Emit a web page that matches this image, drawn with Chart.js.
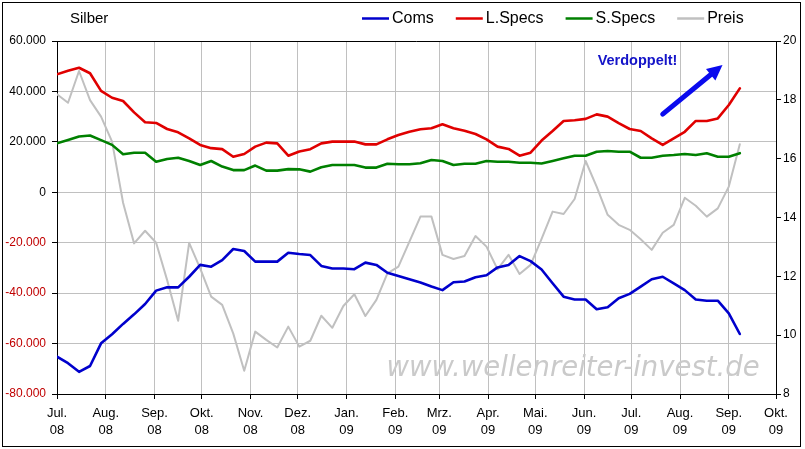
<!DOCTYPE html>
<html>
<head>
<meta charset="utf-8">
<script src="https://cdn.jsdelivr.net/npm/chart.js@4.4.1/dist/chart.umd.min.js"></script>
<style>
  html, body { margin: 0; padding: 0; background: #fff; }
  canvas { display: block; }
</style>
</head>
<body>
<canvas id="chart" width="805" height="449"></canvas>
<script>
// Silber - COT positions (weekly, Tuesdays) and price
const firstWeek = Date.UTC(2008, 6, 1);   // Tue 01.07.2008
const DAY = 86400000;

const coms = [
  -65200, -67800, -71200, -68900, -59900, -56300, -52200, -48400, -44300, -39000,
  -37700, -37700, -33500, -28800, -29500, -26900, -22500, -23300, -27500, -27500,
  -27500, -24000, -24500, -24900, -29200, -30200, -30200, -30500, -27900, -28800,
  -31900, -33200, -34500, -35800, -37400, -38800, -35700, -35400, -33700, -32900,
  -29800, -28800, -25300, -27300, -30600, -36100, -41400, -42500, -42500, -46400,
  -45600, -42000, -40300, -37400, -34500, -33500, -36100, -38800, -42500, -43000,
  -43000, -48000, -56200
];
const longSpecs = [
  46800, 48200, 49400, 47200, 40200, 37500, 36200, 31700, 27800, 27500,
  25100, 23800, 21400, 18800, 17500, 17100, 14100, 15200, 18100, 19700,
  19400, 14500, 16200, 17100, 19400, 20100, 20100, 20100, 19000, 19000,
  21000, 22700, 24000, 25000, 25400, 27000, 25400, 24400, 23100, 21000,
  18100, 17200, 14500, 15700, 20500, 24300, 28300, 28600, 29100, 30900,
  30000, 27400, 25100, 24300, 21400, 18800, 21400, 24000, 28300, 28300,
  29300, 34600, 41200
];
const shortSpecs = [
  19400, 20700, 22100, 22500, 20700, 18800, 15100, 15700, 15700, 12100,
  13200, 13700, 12400, 10800, 12400, 10200, 8800, 8800, 10600, 8600,
  8600, 9200, 9100, 8200, 9900, 10800, 10800, 10800, 9800, 9800,
  11300, 11100, 11100, 11500, 12800, 12400, 10800, 11300, 11300, 12400,
  12100, 12100, 11700, 11700, 11400, 12400, 13500, 14500, 14500, 16100,
  16400, 16100, 16100, 13700, 13700, 14500, 14800, 15200, 14800, 15500,
  14100, 14100, 15500
];
const price = [
  18.19, 17.90, 18.98, 17.99, 17.43, 16.58, 14.50, 13.12, 13.55, 13.14,
  11.87, 10.49, 13.14, 12.27, 11.31, 11.03, 10.06, 8.79, 10.12, 9.84,
  9.58, 10.29, 9.61, 9.81, 10.66, 10.25, 10.99, 11.39, 10.65, 11.20,
  12.10, 12.33, 13.18, 14.03, 14.03, 12.73, 12.59, 12.69, 13.37, 13.01,
  12.24, 12.73, 12.08, 12.39, 13.27, 14.20, 14.12, 14.63, 15.92, 15.05,
  14.09, 13.75, 13.58, 13.26, 12.90, 13.48, 13.75, 14.67, 14.40, 14.03,
  14.31, 15.05, 16.49
];

const monthNames = ['Jul.', 'Aug.', 'Sep.', 'Okt.', 'Nov.', 'Dez.', 'Jan.', 'Feb.',
                    'Mrz.', 'Apr.', 'Mai.', 'Jun.', 'Jul.', 'Aug.', 'Sep.', 'Okt.'];
const monthYears = ['08', '08', '08', '08', '08', '08', '09', '09',
                    '09', '09', '09', '09', '09', '09', '09', '09'];

// day offsets of the month starts (x axis ticks) and of each weekly point
const monthDays = monthNames.map((m, k) => Math.round((Date.UTC(2008, 6 + k, 1) - firstWeek) / DAY));
const weekDays = coms.map((v, i) => i * 7);
const toPoints = arr => arr.map((v, i) => ({ x: weekDays[i], y: v }));

const fmt = v => (v < 0 ? '-' : '') + Math.abs(v).toString().replace(/\B(?=(\d{3})+(?!\d))/g, '.');

const FONT = "'Liberation Sans', Arial, sans-serif";
Chart.defaults.font.family = FONT;

// extra drawing: background, watermark, note + arrow, frame, title and legend
const decorations = {
  id: 'decorations',
  beforeDraw(chart) {
    const ctx = chart.ctx;
    ctx.save();
    ctx.fillStyle = '#fff';
    ctx.fillRect(0, 0, chart.width, chart.height);
    ctx.restore();
  },
  beforeDatasetsDraw(chart) {
    const { ctx, scales: { x, y } } = chart;
    ctx.save();
    ctx.font = "oblique 27.5px 'DejaVu Sans', sans-serif";
    ctx.fillStyle = '#cacaca';
    ctx.textAlign = 'center';
    ctx.textBaseline = 'middle';
    ctx.fillText('www.wellenreiter-invest.de', x.getPixelForValue(328), y.getPixelForValue(-70000));
    ctx.restore();
  },
  afterDatasetsDraw(chart) {
    const { ctx, scales: { x, y } } = chart;
    ctx.save();
    ctx.font = 'bold 14.5px ' + FONT;
    ctx.fillStyle = '#1414c8';
    ctx.textAlign = 'center';
    ctx.textBaseline = 'middle';
    ctx.fillText('Verdoppelt!', x.getPixelForValue(369), y.getPixelForValue(52200));

    // arrow
    const x0 = x.getPixelForValue(385), y0 = y.getPixelForValue(31000);
    const x1 = x.getPixelForValue(423), y1 = y.getPixelForValue(50500);
    const ang = Math.atan2(y1 - y0, x1 - x0);
    const head = 17;
    ctx.strokeStyle = '#0a0aee';
    ctx.fillStyle = '#0a0aee';
    ctx.lineWidth = 5;
    ctx.lineCap = 'round';
    ctx.beginPath();
    ctx.moveTo(x0, y0);
    ctx.lineTo(x1 - Math.cos(ang) * head * 0.7, y1 - Math.sin(ang) * head * 0.7);
    ctx.stroke();
    ctx.beginPath();
    ctx.moveTo(x1, y1);
    ctx.lineTo(x1 - Math.cos(ang - 0.45) * head, y1 - Math.sin(ang - 0.45) * head);
    ctx.lineTo(x1 - Math.cos(ang + 0.45) * head, y1 - Math.sin(ang + 0.45) * head);
    ctx.closePath();
    ctx.fill();
    ctx.restore();
  },
  afterDraw(chart) {
    const { ctx, chartArea: a } = chart;
    ctx.save();
    ctx.strokeStyle = '#000';
    ctx.lineWidth = 1;
    ctx.beginPath();
    ctx.moveTo(a.left, Math.round(a.top) + 0.5);
    ctx.lineTo(a.right, Math.round(a.top) + 0.5);
    ctx.stroke();
    ctx.strokeRect(2.5, 2.5, 798, 444);

    ctx.fillStyle = '#000';
    ctx.textBaseline = 'middle';
    ctx.font = '15px ' + FONT;
    ctx.fillText('Silber', 70, 19);

    // legend
    ctx.font = '16px ' + FONT;
    let lx = 362;
    chart.data.datasets.forEach(ds => {
      ctx.strokeStyle = ds.borderColor;
      ctx.lineWidth = 2.5;
      ctx.beginPath();
      ctx.moveTo(lx, 18.5);
      ctx.lineTo(lx + 27, 18.5);
      ctx.stroke();
      ctx.fillStyle = '#000';
      ctx.fillText(ds.label, lx + 30, 19);
      lx += 30 + ctx.measureText(ds.label).width + 22;
    });
    ctx.restore();
  }
};

new Chart(document.getElementById('chart'), {
  type: 'line',
  data: {
    datasets: [
      { label: 'Coms', data: toPoints(coms), borderColor: '#0000cc', borderWidth: 2.6, yAxisID: 'y' },
      { label: 'L.Specs', data: toPoints(longSpecs), borderColor: '#e00000', borderWidth: 2.6, yAxisID: 'y' },
      { label: 'S.Specs', data: toPoints(shortSpecs), borderColor: '#008000', borderWidth: 2.6, yAxisID: 'y' },
      { label: 'Preis', data: toPoints(price), borderColor: '#c0c0c0', borderWidth: 2, yAxisID: 'y1' }
    ]
  },
  options: {
    responsive: false,
    animation: false,
    devicePixelRatio: 1,
    layout: { padding: { top: 41, left: 0, right: 0, bottom: 0 } },
    plugins: { legend: { display: false }, tooltip: { enabled: false } },
    elements: {
      point: { radius: 0 },
      line: { tension: 0, borderJoinStyle: 'round', borderCapStyle: 'round' }
    },
    scales: {
      x: {
        type: 'linear',
        min: monthDays[0],
        max: monthDays[monthDays.length - 1],
        afterBuildTicks: s => { s.ticks = monthDays.map(v => ({ value: v })); },
        afterFit: s => { s.height = 55; },
        grid: { color: '#c0c0c0', tickColor: '#000', tickLength: 5 },
        border: { color: '#000' },
        ticks: {
          autoSkip: false,
          maxRotation: 0,
          color: '#000',
          padding: 6,
          font: { size: 13, lineHeight: 1.32 },
          callback: v => {
            const k = monthDays.indexOf(v);
            return [monthNames[k], monthYears[k]];
          }
        }
      },
      y: {
        position: 'left',
        min: -80000,
        max: 60000,
        afterFit: s => { s.width = 57; },
        grid: { color: '#c0c0c0', tickColor: '#000', tickLength: 5 },
        border: { color: '#000' },
        ticks: {
          stepSize: 20000,
          padding: 6,
          font: { size: 12 },
          color: c => (c.tick && c.tick.value < 0 ? '#c00000' : '#000'),
          callback: v => fmt(v)
        }
      },
      y1: {
        position: 'right',
        min: 8,
        max: 20,
        afterFit: s => { s.width = 29; },
        grid: { drawOnChartArea: false, tickColor: '#000', tickLength: 5 },
        border: { color: '#000' },
        ticks: { stepSize: 2, padding: 2, color: '#000', font: { size: 12 } }
      }
    }
  },
  plugins: [decorations]
});
</script>
</body>
</html>
